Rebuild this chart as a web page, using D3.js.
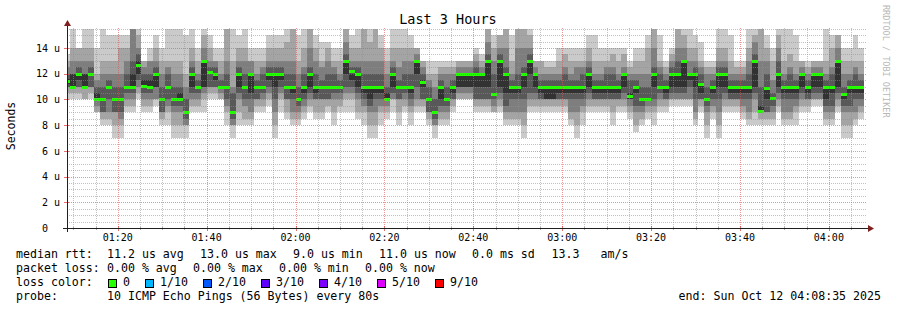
<!DOCTYPE html>
<html>
<head>
<meta charset="utf-8">
<script src="https://cdn.jsdelivr.net/npm/d3@7"></script>
<style>
  body { margin: 0; background: #fff; }
  svg { display: block; }
  text { font-family: "DejaVu Sans Mono", monospace; white-space: pre; }
</style>
</head>
<body>
<svg id="svg1" width="897" height="310"></svg>
<script>
// ---- data ----
var startTime = '01:08:35', endTime = '04:08:35';
var firstStep = '01:08:00';   // start of the first 80s step
var stepSec = 80;

// median rtt per step (microseconds)
var medians = [11.4,11,12,11,12,10,10,11,10,10, 11,11,12.7,11.05,11,12,10,11,10,10,
  9,12,11,13,12.15,12,11,11,9,12, 11,12,11,11,12,12,12,11,11,10,
  11,12,11,11,11,11,11,13,12.2,12, 11,11,11,11,10,12,11,11,11,13,
  11.35,10,9,11,10,11,12,12,12,12, 12,13,10.45,13,12,11,11,12,13,12,
  11,11,11,11,11,11,11,11,12,11, 11,11,11,11,12,10.3,11,10,10,12,
  11,11,12,12,13,12,12,11.17,10,11, 12,12,11,11,11,11,13,9.1,10.9,10.14,
  12,11,11,11,12,11,12,12,11,11, 13,10.45,11,11,11];

// the 10 sorted ping times of every step (microseconds)
var pings = [
  [10,10.5,11,11,11.2,11.6,12,12.5,13,13.5],[10,10.5,11,11,11,12,12,13,14,15.5],
  [10,10.5,11,11,11.5,12,12.5,13,14,14],[10,10,11,11,11,12,12,13,14,15.5],
  [10,10.5,11,11,12,12,12.5,13,14,15.5],[9,9,9.5,10,10,10.5,11,11.5,12,14],
  [8,8.5,9,9,10,10,11,12,13,15.5],[8,8.5,9,10,11,11,11.5,12,13,15],
  [7,8,9,9,10,10,11,12,13,15],[7,8,8.5,9,10,10,11,12,14,15],
  [9,9.5,10,10.5,11,11,12,13,14,15],[9,9.5,10,10.5,11,12,13,15.5,15.5,15.5],
  [10,10.5,11,11.5,12,13,13.5,14,15,15.5],[9,9.5,10,10.5,11,11.5,12,12.5,13,13],
  [9,9.5,10,10.5,11,11.5,12,13,13,14],[9.5,10,10,11,11,12,12.5,13,14,15],
  [8,8.5,9,9,10,10,11,12,13,14],[8,9,9.5,10,11,11,12,12.5,13,15.5],
  [7,8,9,9.5,10,10,11,12,13,15.5],[7,8,9,9.5,10,10.5,11,12,13,15.5],
  [7,8,8,8.5,9,9,10,11,12,15],[9,9.5,10,10.5,11,12,12.5,13,14,15.5],
  [9,9.5,10,10.5,11,11,11.5,12,13,14],[9,10,10.5,11,11,13,13,14,15,15.5],
  [10,10.5,11,11,12,12,12.5,13,14,15],[10,10.5,11,11,11.5,12,12.5,13,13,14],
  [10,10,10.5,11,11,11,11.5,12,13,14],[8,9,9.5,10,11,11,12,13,15.5,15.5],
  [7,8,8,8.5,9,9,10.5,11,13,15.5],[8,9,10,10.5,11,12,12.5,13,14,15],
  [8,8.5,9.5,10,11,11,12,13,14,15.5],[8,8.5,9,10,10.5,12,12,13,13,14],
  [9,9.5,10,10,11,11,11.5,12,13,14],[9,9.5,10,10.5,11,11,12,12.5,13,14],
  [9.5,10,10.5,11,11.5,12,12.5,13,14,15],[7,8,9,10,11,12,12.5,13,14,15],
  [9,10,10.5,11,11.5,12,12.5,13,14,15],[8.5,9,10,10,11,11,12,13,14.5,15.5],
  [8,8.5,9,10,10.5,11,12,13,15.5,15.5],[8,8.5,9,9.5,10,10,11,12,13,15],
  [8.5,9,9.5,10,10.5,11,12,12.5,14,15.5],[9,9.5,10,10.5,11,12,12.5,14,15.5,15.5],
  [8.5,9,10,10,10.5,11,12,13,14,15],[8.5,9,10,10,11,11,11.5,12.5,13,14.5],
  [9,9.5,10,10,11,11,12,13,14,14.5],[8,9,10,10.5,11,11,12,12.5,13,14],
  [9,9.5,10,10.5,11,11,11.5,12,13,14],[9,10,10.5,11,12,13,13.5,14.5,15.5,15.5],
  [9,10,10.5,11,11.5,12,12.5,13,14,15],[8.5,9,10,10.5,11,12,12.5,13,14,15.5],
  [8,9,9.5,10,10.5,11,12,13,15.5,15.5],[7,8,9,9.5,10,11,12,13,14.5,15.5],
  [7,8,9,10,10.5,11,12,13,15.5,15.5],[8,9,9.5,10,10.5,11,12,13,14,15],
  [8.5,9,9.5,10,10,10.5,11,12,13,14],[9,10,10,10.5,11,12,12.5,13,14,15.5],
  [8,9,10,10,11,11,11.5,12.5,14,15.5],[9,9.5,10,10.5,11,11,12,13,14,15.5],
  [8,9,9.5,10,10.5,11,12,13,14,15],[9,9.5,10,11,12,13,13,13.5,14,14],
  [9,9.5,10,10,11,11.5,12,12.5,13,13],[8,8.5,9,9,10,10,11,11.5,12,13],
  [7,8,8,8.5,9,9,10,11,12,13],[8,8.5,9,9.5,10,11,11.5,12,12.5,13],
  [8,8.5,9,9.5,10,10,11,12,12.5,13],[9,9.5,10,10,10.5,11,11.5,12,12.5,13],
  [10,10,10.5,11,11,12,12,12.5,13,13],[10,10,10.5,11,11,12,12,12.5,13,13],
  [10,10,10.5,11,11,12,12,12.5,13,13],[9,9.5,10,10,11,12,12.5,13,13.5,14],
  [9,9.5,10,10,11,12,12,12.5,13,13.5],[9,9.5,10,10,11,13,13.5,14.5,15.5,15.5],
  [9,9,9.5,10,10.5,10.5,12,13,14,15],[9,9.5,10,10.5,11,13,13.5,14,15,15],
  [8,8.5,9,9.5,10.5,12,12.5,14,15.5,15.5],[8,8.5,9,10,10.5,11,11.5,12,13,15],
  [8,8.5,9,10,10.5,11,12,14,15.5,15.5],[7,8,9,10,11,12,12.5,14,15.5,15.5],
  [9,9.5,10,10.5,12,13,13.5,14,15,15.5],[9,9.5,10,10.5,11,12,12,12.5,13,13],
  [9,9.5,10,10,10.5,11,11.5,12,13,13],[9,9.5,10,10,10,11,11.5,12,12.5,13],
  [9,9.5,10,10,10,11,11.5,12,12.5,13],[9,9.5,10,10,10.5,11,11.5,12,13,14],
  [9,9.5,10,10,10.5,11,12,12.5,13.5,14],[8,8.5,9,10,10.5,11,11.5,12,13,14],
  [7,8,9,10,10.5,11,11.5,12.5,13,14],[8,9,9.5,10,10.5,11,12,12.5,13,14],
  [9,9.5,10,10.5,11,12,12.5,13,14,15],[9,9.5,10,10,10.5,11,11.5,12,13,15],
  [9,9.5,10,10,10.5,11,11.5,12,13,14],[9,9.5,10,10,10.5,11,12,12.5,13,14],
  [8,9,10,10,10.5,11,12,12.5,13.5,14],[9,9.5,10,10,10.5,11,11.5,12,13,14],
  [9,9.5,10,10.5,11,12,12,12.5,13.5,14],[8.5,9,9.5,10,10,10.5,11.5,12,12.5,13],
  [7.5,8,9,9.5,10.5,11,11.5,12,13,14],[8,8.5,9,9.5,10,10,11,12,13,14],
  [8.5,9,9.5,10,10,10,11,12,14,15],[8,9,9.5,10,11,12,12.5,14,15.5,15.5],
  [9,9.5,10,10.5,11,11,12,12.5,13,15],[9,9.5,10,10,10.5,11,11.5,12,12.5,13],
  [9.5,10,10,10.5,11,12,12.5,13,13.5,14],[9.5,10,10,10.5,11,12,13,14,15.5,15.5],
  [9.5,10,10,10.5,11,13,13,14,15,15.5],[9.5,10,10,11,11.5,12,12,13,14,15.5],
  [8,8.5,9,10,11,12,12.5,13,14,15],[9,9.5,10,10,10.5,11.2,12,12.5,13,14.5],
  [7,8,9,9.5,10,10,11,12,12.5,13],[8.5,9,9.5,10,10.5,11,11.5,12,12.5,13],
  [7,8,9,10,11,12,12.5,13,14,15.5],[9,9.5,10,10.5,11,12,12.5,13,14,15.5],
  [9,9.5,10,10,10.5,11,11.5,12,13,15],[9,9.5,10,10,10.5,11,11.5,12,12.5,13],
  [8.5,9,9.5,10,10.5,11,11.5,12,12.5,13],[8,8.5,9,10,10.5,11,12,13,14,15.5],
  [8,9,10,10.5,11,13,13.5,14.5,15,15.5],[8,8.5,9,9,9,9.5,11,13,15.5,15.5],
  [8,8.5,9,9,10,11,12,13,14,15],[8,8.5,9,9.5,10,10,10.5,11.5,13,14],
  [9,9.5,10,10.5,11,12,13,14,15,15.5],[8,8.5,9,10,10.5,11,11.5,12,13,15.5],
  [8,8.5,9,10,10.5,11,12,12.5,13.5,15.5],[8,9,9.5,10,10.5,11,11.5,12,13,15],
  [9,9.5,10,10.5,11,12,12,12.5,13,13],[9,9.5,10,10,10.5,11,11.5,12,12.5,13],
  [9.5,10,10,10.5,11,12,12,12.5,13,13],[9.5,10,10,10.5,11,12,12,12.5,13,13],
  [8,8.5,9,9.5,10,11,11.5,12,13,15.5],[8,8.5,9,9.5,10.5,11,12,12.5,14,15],
  [9,9.5,10,10.5,11,13,13,14,15,15],[7,8,9,9.5,10,10.5,11,12,13,14],
  [7,8,9,9.5,10.5,11,11.5,12,13,14],[8,8.5,9,10,10.5,11,12,12.5,13,15],
  [8.5,9,9.5,10,10.5,11,11.5,12,13,14]
];

var yTicks = [0, 2, 4, 6, 8, 10, 12, 14];
var xTickLabels = ['01:20', '01:40', '02:00', '02:20', '02:40', '03:00', '03:20', '03:40', '04:00'];

var lossLabels = ['0', '1/10', '2/10', '3/10', '4/10', '5/10', '9/10'];
var lossColors = ['#26ff00', '#00b8ff', '#0059ff', '#5e00ff', '#7e00ff', '#dd00ff', '#ff0000'];
var smokeColors = ['#cacaca', '#a4a4a4', '#7e7e7e', '#585858', '#323232'];

// ---- layout ----
var plotLeft = 67, plotRight = 867, plotTop = 28, plotBottom = 228;

function t(s) {
    var p = s.split(':');
    return new Date(Date.UTC(2025, 9, 12, +p[0], +p[1], +(p[2] || 0)));
}

var x = d3.scaleUtc().domain([t(startTime), t(endTime)]).range([plotLeft, plotRight]);
var y = d3.scaleLinear().domain([0, 200 / (180 / 14)]).range([plotBottom, plotTop]);

var svg = d3.select('svg');

svg.append('defs').append('clipPath').attr('id', 'plot')
    .append('rect').attr('x', plotLeft).attr('y', plotTop)
    .attr('width', plotRight - plotLeft).attr('height', plotBottom - plotTop);

// time of each step
var t0 = t(firstStep).getTime();
var steps = pings.map(function (p, i) {
    return {
        from: new Date(t0 + i * stepSec * 1000),
        to: new Date(t0 + (i + 1) * stepSec * 1000),
        p: p,
        med: medians[i]
    };
});

var plot = svg.append('g').attr('clip-path', 'url(#plot)');

// smoke: band b spans ping[b] .. ping[9-b]
smokeColors.forEach(function (col, b) {
    plot.append('g').selectAll('rect')
        .data(steps)
        .enter()
        .append('rect')
        .attr('x', function (d) { return Math.round(x(d.from)); })
        .attr('width', function (d) { return Math.round(x(d.to)) - Math.round(x(d.from)); })
        .attr('y', function (d) { return Math.round(y(d.p[9 - b])); })
        .attr('height', function (d) { return Math.round(y(d.p[b])) - Math.round(y(d.p[9 - b])); })
        .attr('fill', col)
        .attr('shape-rendering', 'crispEdges');
});

// median line (loss 0 -> green)
plot.append('g').selectAll('rect')
    .data(steps)
    .enter()
    .append('rect')
    .attr('x', function (d) { return Math.round(x(d.from)); })
    .attr('width', function (d) { return Math.round(x(d.to)) - Math.round(x(d.from)); })
    .attr('y', function (d) { return Math.round(y(d.med)) - 1; })
    .attr('height', 3)
    .attr('fill', lossColors[0])
    .attr('shape-rendering', 'crispEdges');

// ---- grid (on top, like rrdtool) ----
var grid = svg.append('g').attr('shape-rendering', 'crispEdges');
var minorY = d3.range(0.5, 15.6, 0.5).filter(function (v) { return v % 2 !== 0; });
grid.selectAll('.hmin').data(minorY).enter().append('line')
    .attr('x1', plotLeft).attr('x2', plotRight)
    .attr('y1', function (d) { return Math.round(y(d)) + 0.5; })
    .attr('y2', function (d) { return Math.round(y(d)) + 0.5; })
    .attr('stroke', 'rgba(143,143,143,0.55)').attr('stroke-dasharray', '1,1');

var majorX = xTickLabels.map(t);
var minorX = x.ticks(d3.utcMinute.every(5)).filter(function (d) { return d.getUTCMinutes() % 20 !== 0; });
grid.selectAll('.vmin').data(minorX).enter().append('line')
    .attr('x1', function (d) { return Math.round(x(d)) + 0.5; })
    .attr('x2', function (d) { return Math.round(x(d)) + 0.5; })
    .attr('y1', plotTop).attr('y2', plotBottom)
    .attr('stroke', 'rgba(143,143,143,0.55)').attr('stroke-dasharray', '1,1');

grid.selectAll('.hmaj').data(yTicks.slice(1)).enter().append('line')
    .attr('x1', plotLeft).attr('x2', plotRight)
    .attr('y1', function (d) { return Math.round(y(d)) + 0.5; })
    .attr('y2', function (d) { return Math.round(y(d)) + 0.5; })
    .attr('stroke', 'rgba(222,79,79,0.6)').attr('stroke-dasharray', '1,1');

grid.selectAll('.vmaj').data(majorX).enter().append('line')
    .attr('x1', function (d) { return Math.round(x(d)) + 0.5; })
    .attr('x2', function (d) { return Math.round(x(d)) + 0.5; })
    .attr('y1', plotTop).attr('y2', plotBottom)
    .attr('stroke', 'rgba(222,79,79,0.6)').attr('stroke-dasharray', '1,1');

// ---- axes ----
var axisCol = '#1f1f1f', arrowCol = '#7f2020';
grid.selectAll('.xtmin').data(minorX).enter().append('line')
    .attr('x1', function (d) { return Math.round(x(d)) + 0.5; })
    .attr('x2', function (d) { return Math.round(x(d)) + 0.5; })
    .attr('y1', plotBottom - 1).attr('y2', plotBottom + 2)
    .attr('stroke', 'rgba(143,143,143,0.8)');
grid.selectAll('.xtmaj').data(majorX).enter().append('line')
    .attr('x1', function (d) { return Math.round(x(d)) + 0.5; })
    .attr('x2', function (d) { return Math.round(x(d)) + 0.5; })
    .attr('y1', plotBottom - 2).attr('y2', plotBottom + 3)
    .attr('stroke', 'rgba(222,79,79,0.8)');
grid.selectAll('.ytmaj').data(yTicks).enter().append('line')
    .attr('x1', plotLeft - 3).attr('x2', plotLeft + 2)
    .attr('y1', function (d) { return Math.round(y(d)) + 0.5; })
    .attr('y2', function (d) { return Math.round(y(d)) + 0.5; })
    .attr('stroke', 'rgba(222,79,79,0.8)');

grid.append('line').attr('x1', plotLeft - 4).attr('x2', plotRight + 3)
    .attr('y1', plotBottom + 0.5).attr('y2', plotBottom + 0.5).attr('stroke', axisCol);
grid.append('line').attr('x1', plotLeft + 0.5).attr('x2', plotLeft + 0.5)
    .attr('y1', plotBottom + 4).attr('y2', plotTop - 4).attr('stroke', axisCol);
svg.append('path')
    .attr('d', d3.line()([[plotRight + 1, plotBottom - 3], [plotRight + 7, plotBottom + 0.5], [plotRight + 1, plotBottom + 4]]))
    .attr('fill', arrowCol);
svg.append('path')
    .attr('d', d3.line()([[plotLeft - 3, plotTop - 2], [plotLeft + 0.5, plotTop - 8], [plotLeft + 4, plotTop - 2]]))
    .attr('fill', arrowCol);

// tick labels
svg.append('g').selectAll('text').data(yTicks).enter().append('text')
    .attr('x', 60).attr('y', function (d) { return y(d) + 3.7; })
    .attr('text-anchor', 'end').attr('font-size', '10px')
    .text(function (d) { return d === 0 ? '0  ' : d + ' u'; });

svg.append('g').selectAll('text').data(majorX).enter().append('text')
    .attr('x', function (d) { return x(d); }).attr('y', 241)
    .attr('text-anchor', 'middle').attr('font-size', '10px')
    .text(function (d, i) { return xTickLabels[i]; });

// title and axis title
svg.append('text').attr('x', 448).attr('y', 24).attr('text-anchor', 'middle')
    .attr('font-size', '13.5px').text('Last 3 Hours');
svg.append('text').attr('transform', 'translate(15,126) rotate(-90)')
    .attr('text-anchor', 'middle').attr('font-size', '11.5px').text('Seconds');
svg.append('text').attr('transform', 'translate(883,5) rotate(90)')
    .attr('font-size', '8.5px').attr('fill', '#b8b8b8').text('RRDTOOL / TOBI OETIKER');

// ---- legend ----
var lg = svg.append('g').attr('font-size', '11.6px');
function put(tx, px, py) { lg.append('text').attr('x', px).attr('y', py).text(tx); }
put('median rtt:', 16, 258);
put('11.2 us avg', 107, 258); put('13.0 us max', 200, 258); put('9.0 us min', 293, 258);
put('11.0 us now', 379, 258); put('0.0 ms sd', 472, 258); put('13.3', 551.5, 258); put('am/s', 600.5, 258);
put('packet loss:', 16, 272);
put('0.00 % avg', 107, 272); put('0.00 % max', 193, 272); put('0.00 % min', 279, 272); put('0.00 % now', 365, 272);
put('loss color:', 16, 286);
var boxX = [108.5, 145.5, 203.5, 261.5, 319.5, 377.5, 435.5];
lossLabels.forEach(function (l, i) {
    lg.append('rect').attr('x', boxX[i]).attr('y', 279.5).attr('width', 8).attr('height', 8)
        .attr('fill', lossColors[i]).attr('stroke', '#000').attr('stroke-width', 1);
    put(l, boxX[i] + 14.5, 286);
});
put('probe:', 16, 300);
put('10 ICMP Echo Pings (56 Bytes) every 80s', 107, 300);
lg.append('text').attr('x', 881).attr('y', 300).attr('text-anchor', 'end').text('end: Sun Oct 12 04:08:35 2025');
</script>
</body>
</html>
